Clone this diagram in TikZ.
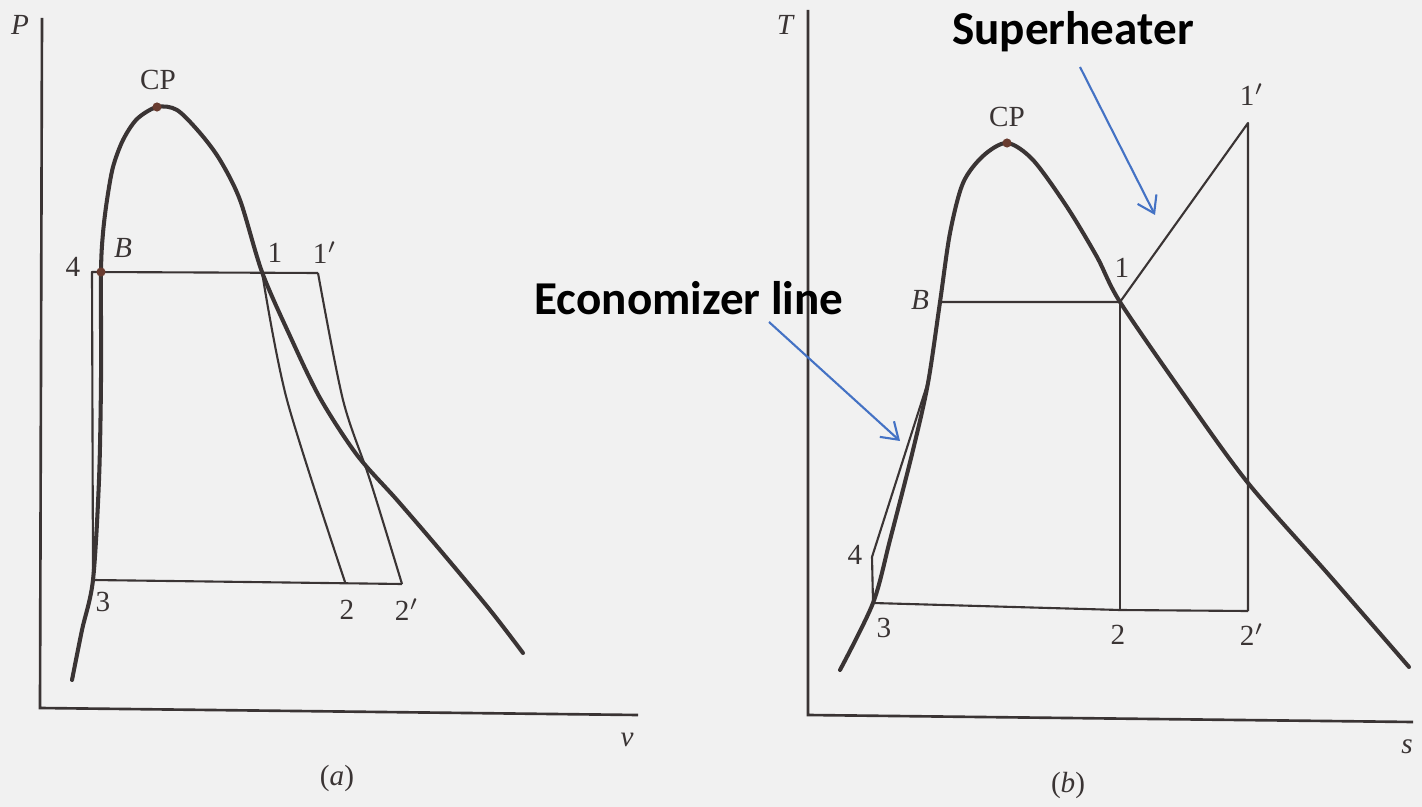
\documentclass[tikz,border=0pt]{standalone}
\usepackage{fontspec}
\setmainfont{Liberation Serif}
\newfontfamily\annfont{Carlito}
\usetikzlibrary{arrows.meta}
\definecolor{ink}{RGB}{58,52,52}
\definecolor{paper}{RGB}{241,241,241}
\definecolor{callout}{RGB}{68,114,196}
\definecolor{cpdot}{RGB}{105,60,48}

\begin{document}
\begin{tikzpicture}[x=0.01cm,y=-0.01cm,
  curve/.style={draw=ink,line width=1.15pt,line cap=round,line join=round},
  fine/.style={draw=ink,line width=0.6pt,line join=round},
  axisline/.style={draw=ink,line width=0.75pt},
  lbl/.style={text=ink,inner sep=0pt,font=\fontsize{8.3}{10}\selectfont},
  ilbl/.style={lbl,font=\fontsize{8.3}{10}\selectfont\itshape},
  note/.style={inner sep=0pt,anchor=base,font=\annfont\bfseries\fontsize{13.4}{16}\selectfont},
  callarrow/.style={draw=callout,line width=0.6pt,-{Straight Barb[length=4.5pt,width=6pt]}}]
  \fill[paper] (0,0) rectangle (1422,807);
  \useasboundingbox (0,0) rectangle (1422,807);

  % (a) P-v
  \coordinate (Pt)  at (42,18);
  \coordinate (Oa)  at (40,708);
  \coordinate (ve)  at (638,715);
  \coordinate (aCP) at (157,107);
  \coordinate (a4)  at (92,272);
  \coordinate (aB)  at (101,272);
  \coordinate (a1)  at (262,272);
  \coordinate (a1p) at (318,273);
  \coordinate (a3)  at (93,580);
  \coordinate (a2)  at (345,582);
  \coordinate (a2p) at (402,584);

  \draw[axisline] (Pt) -- (Oa) -- (ve);
  \draw[curve] plot[smooth] coordinates {(72,680) (82,630) (a3) (99,480) (101,380) (aB)
    (103,233) (107,200) (113,167) (123,140) (137,119) (aCP) (177,110) (200,133)
    (220,160) (240,200) (a1) (290,336) (320,398) (357,455) (397,500) (440,550)
    (490,610) (523,653)};
  \draw[fine] (a3) -- (a4) -- (a1p);
  \draw[fine] (a3) -- (a2p);
  \draw[fine] plot[smooth] coordinates {(a1) (287,400) (a2)};
  \draw[fine] plot[smooth] coordinates {(a1p) (343,400) (370,480) (a2p)};
  \fill[cpdot] (aCP) circle (1.3pt);
  \fill[cpdot] (aB) circle (1.3pt);

  \node[ilbl] (lP)   at (20,25)   {P};
  \node[lbl]  (lCPa) at (158,80)  {CP};
  \node[ilbl] (lBa)  at (123,248) {B};
  \node[lbl]  (l4a)  at (73,267)  {4};
  \node[lbl]  (l1a)  at (275,253) {1};
  \node[lbl]  (l1pa) at (325,253) {1$'$};
  \node[lbl]  (l3a)  at (103,602) {3};
  \node[lbl]  (l2a)  at (347,610) {2};
  \node[lbl]  (l2pa) at (407,610) {2$'$};
  \node[ilbl] (lv)   at (627,740) {v};
  \node[lbl]  (capa) at (337,778) {(\textit{a})};

  % (b) T-s
  \coordinate (Tt)  at (808,10);
  \coordinate (Ob)  at (808,715);
  \coordinate (se)  at (1413,722);
  \coordinate (bCP) at (1007,143);
  \coordinate (bB)  at (940,302);
  \coordinate (b1)  at (1120,302);
  \coordinate (b1p) at (1248,123);
  \coordinate (b2)  at (1120,610);
  \coordinate (b2p) at (1248,611);
  \coordinate (b3)  at (873,603);
  \coordinate (b4)  at (872,557);
  \coordinate (bj)  at (927,385);

  \draw[axisline] (Tt) -- (Ob) -- (se);
  \draw[curve] plot[smooth] coordinates {(840,670) (b3) (890,540) (913,450) (928,383)
    (bB) (950,233) (963,183) (983,156) (bCP) (1033,160) (1067,207) (1097,257)
    (b1) (1184,395) (1248,483) (1329,575) (1409,667)};
  \draw[fine] (b3) -- (b4) -- (bj);
  \draw[fine] (bB) -- (b1) -- (b1p) -- (b2p);
  \draw[fine] (b1) -- (b2);
  \draw[fine] (b3) -- (b2) -- (b2p);
  \fill[cpdot] (bCP) circle (1.3pt);

  \node[ilbl] (lT)   at (785,25)   {T};
  \node[lbl]  (lCPb) at (1007,117) {CP};
  \node[ilbl] (lBb)  at (920,300)  {B};
  \node[lbl]  (l1b)  at (1122,268) {1};
  \node[lbl]  (l1pb) at (1252,95)  {1$'$};
  \node[lbl]  (l4b)  at (855,555)  {4};
  \node[lbl]  (l3b)  at (884,628)  {3};
  \node[lbl]  (l2b)  at (1118,635) {2};
  \node[lbl]  (l2pb) at (1252,635) {2$'$};
  \node[ilbl] (ls)   at (1407,747) {s};
  \node[lbl]  (capb) at (1068,785) {(\textit{b})};

  % annotations
  \node[note] (sup) at (1073,45)  {Superheater};
  \node[note] (eco) at (689,315)  {Economizer line};
  \coordinate (supt) at (1080,67);
  \coordinate (supa) at (1155,215);
  \coordinate (ecot) at (769,322);
  \coordinate (ecoa) at (900,441);
  \draw[callarrow] (supt) -- (supa);
  \draw[callarrow] (ecot) -- (ecoa);
\end{tikzpicture}
\end{document}
